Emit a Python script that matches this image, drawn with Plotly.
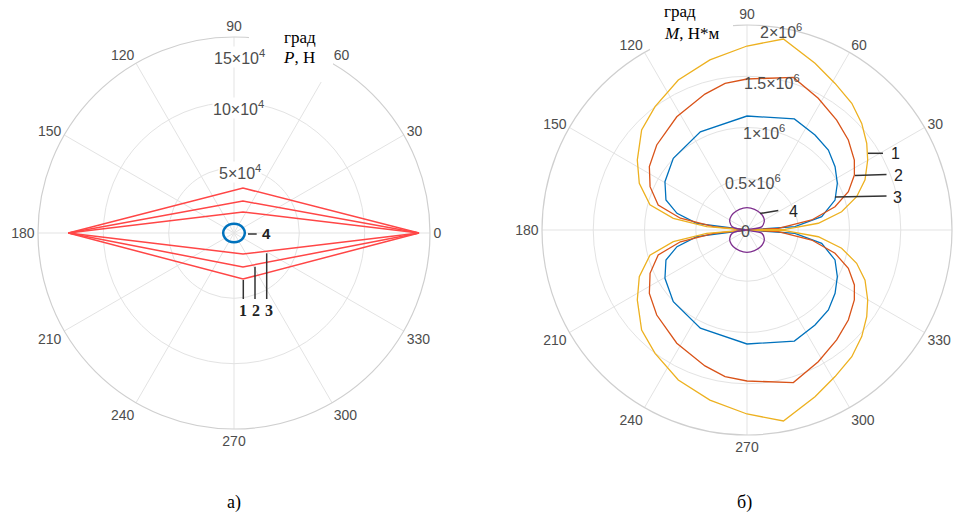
import plotly.graph_objects as go

W, H = 957, 515

# ---------- panel a): force P, units of 10^4 N ----------
p_theta_1 = [0, 78.7, 180, 281.1, 360]
p_r_1 = [14.16, 3.51, 12.68, 3.59, 14.16]
p_theta_2 = [0, 74.3, 180, 284.8, 360]
p_r_2 = [14.16, 2.54, 12.68, 2.69, 14.16]
p_theta_3 = [0, 66.8, 180, 293.2, 360]
p_r_3 = [14.16, 1.75, 12.68, 1.75, 14.16]
p_theta_4 = [0, 30, 60, 90, 120, 150, 180, 210, 240, 270, 300, 330, 360]
p_r_4 = [0.83, 0.79, 0.74, 0.71, 0.74, 0.79, 0.83, 0.79, 0.74, 0.71, 0.74, 0.79, 0.83]
p_ticks = [5, 10, 15]
p_ticklabels = ["5×10<sup>4</sup>", "10×10<sup>4</sup>", "15×10<sup>4</sup>"]

# ---------- panel б): moment M, units of 10^6 N*m (upper lobe, 0..180 deg) ----------
m_theta_1 = [0, 1, 5.4, 10.9, 16.9, 23, 30.1, 35.9, 42.9, 50.4, 59, 67.8, 79.2, 90,
             102.3, 114.6, 126.7, 136.5, 147.5, 156.6, 165.5, 171, 175.3, 180]
m_r_1 = [0, 0.371, 0.699, 0.940, 1.118, 1.251, 1.361, 1.442, 1.528, 1.604, 1.668, 1.756, 1.897, 1.795,
         1.698, 1.610, 1.501, 1.417, 1.269, 1.145, 0.978, 0.728, 0.394, 0]
m_theta_2 = [0, 3.1, 8.8, 14.8, 20.7, 27.1, 33.1, 41.6, 50.8, 61.6, 73.1, 90,
             98.5, 107.2, 121.8, 136.7, 147, 155.9, 164.3, 170, 174.4, 180]
m_r_2 = [0, 0.306, 0.639, 0.888, 1.057, 1.177, 1.250, 1.322, 1.384, 1.461, 1.556, 1.473,
         1.447, 1.388, 1.300, 1.210, 1.136, 1.036, 0.900, 0.660, 0.328, 0]
m_theta_3 = [0, 3.9, 10.1, 18.8, 27.3, 35.7, 44.5, 54.4, 66.9, 90,
             115.4, 135.8, 149.5, 159.7, 166.6, 172.4, 180]
m_r_3 = [0, 0.469, 0.740, 0.907, 0.992, 1.058, 1.113, 1.140, 1.178, 1.112,
         1.061, 1.003, 0.929, 0.843, 0.702, 0.495, 0]
m_theta_4 = [0, 12, 25, 35, 50, 70, 90, 110, 130, 145, 155, 168, 180]
m_r_4 = [0, 0.146, 0.185, 0.201, 0.210, 0.215, 0.218, 0.215, 0.210, 0.201, 0.185, 0.146, 0]
m_ticks = [0.5, 1.0, 1.5]
m_ticklabels = ["0", "0.5×10<sup>6</sup>", "1×10<sup>6</sup>", "1.5×10<sup>6</sup>", "2×10<sup>6</sup>"]

ang_vals = list(range(0, 360, 30))
ang_text = [str(a) for a in ang_vals]
# the 0 label of panel б) falls beyond the page edge, so it is left blank
ang_text_m = [""] + ang_text[1:]

RED = "rgb(255,70,70)"
BLUE = "#0072BD"
ORANGE = "#D95319"
YELLOW = "#EDB120"
PURPLE = "#7E2F8E"


def both_lobes(theta, r):
    """Upper lobe plus its mirror image below the 0-180 axis."""
    th = list(theta) + [360 - t for t in reversed(theta)]
    rr = list(r) + list(reversed(r))
    return th, rr


fig = go.Figure()

for th, rr in [(p_theta_1, p_r_1), (p_theta_2, p_r_2), (p_theta_3, p_r_3)]:
    fig.add_trace(go.Scatterpolar(theta=th, r=rr, mode="lines", subplot="polar",
                                  line=dict(color=RED, width=1.5), hoverinfo="skip"))
fig.add_trace(go.Scatterpolar(theta=p_theta_4, r=p_r_4, mode="lines", subplot="polar",
                              line=dict(color=BLUE, width=2.5, shape="spline"), hoverinfo="skip"))

for th, rr, col, shp in [(m_theta_3, m_r_3, BLUE, "linear"),
                         (m_theta_2, m_r_2, ORANGE, "linear"),
                         (m_theta_1, m_r_1, YELLOW, "linear"),
                         (m_theta_4, m_r_4, PURPLE, "spline")]:
    t_full, r_full = both_lobes(th, rr)
    fig.add_trace(go.Scatterpolar(theta=t_full, r=r_full, mode="lines", subplot="polar2",
                                  line=dict(color=col, width=1.3, shape=shp), hoverinfo="skip"))


def px(x):
    return x / W


def py(y):
    return 1 - y / H


GRID = "#e3e3e3"
RING = "#cfcfcf"
TICKFONT = dict(family="Liberation Sans, Arial", size=14, color="#4d4d4d")


def polar_layout(cx, cy, R, rmax, rticks, atext):
    return dict(
        domain=dict(x=[px(cx - R), px(cx + R)], y=[py(cy + R), py(cy - R)]),
        bgcolor="white",
        angularaxis=dict(direction="counterclockwise", rotation=0,
                         tickmode="array", tickvals=ang_vals, ticktext=atext,
                         tickfont=TICKFONT, ticks="", showline=True,
                         linecolor=RING, linewidth=1.2, gridcolor=GRID, gridwidth=1),
        radialaxis=dict(range=[0, rmax], tickvals=rticks, showticklabels=False,
                        ticks="", showline=False, gridcolor=GRID, gridwidth=1),
    )


fig.update_layout(
    width=W, height=H,
    margin=dict(l=0, r=0, t=0, b=0),
    paper_bgcolor="white",
    showlegend=False,
    polar=polar_layout(234, 233, 196, 15, p_ticks, ang_text),
    polar2=polar_layout(747, 230, 205, 2, m_ticks, ang_text_m),
)

shapes = []
annots = []


def label(x, y, text, size=14, family="Liberation Sans, Arial", color="#4d4d4d", bg=None,
          xanchor="center"):
    a = dict(x=px(x), y=py(y), xref="paper", yref="paper", text=text, showarrow=False,
             xanchor=xanchor, yanchor="middle", font=dict(family=family, size=size, color=color))
    if bg:
        a["bgcolor"] = bg
        a["borderpad"] = 0
    annots.append(a)


def seg(x0, y0, x1, y1, color="#333333", width=1.5):
    shapes.append(dict(type="line", xref="paper", yref="paper",
                       x0=px(x0), y0=py(y0), x1=px(x1), y1=py(y1),
                       line=dict(color=color, width=width), layer="above"))


def whitebox(x0, y0, x1, y1):
    shapes.append(dict(type="rect", xref="paper", yref="paper",
                       x0=px(x0), y0=py(y1), x1=px(x1), y1=py(y0),
                       fillcolor="white", line=dict(width=0), layer="above"))


# axis captions
whitebox(249, 26, 333, 82)
whitebox(650, 0, 733, 50)
SERIF = "Liberation Serif, Times New Roman"
label(300, 37, "град", size=17, family=SERIF, color="black")
label(299, 57, "<i>P</i>, Н", size=17, family=SERIF, color="black")
label(680, 12, "град", size=17, family=SERIF, color="black")
label(691, 34, "<i>M</i>, Н*м", size=17, family=SERIF, color="black")

# radial tick labels
for (x, y), t in zip([(240, 172), (238, 108), (239, 57)], p_ticklabels):
    label(x, y, t, size=16, bg="white")
for (x, y), t in zip([(745, 231), (753, 182), (764, 132), (772, 82), (781, 31)], m_ticklabels):
    label(x, y, t, size=16)

# curve numbers, panel a)
seg(243.3, 280, 243.3, 299)
seg(255, 266.7, 255, 299)
seg(266.7, 253.3, 266.7, 299)
label(243, 310, "<b>1</b>", size=16, family=SERIF, color="#222222")
label(256, 310, "<b>2</b>", size=16, family=SERIF, color="#222222")
label(268.5, 310, "<b>3</b>", size=16, family=SERIF, color="#222222")
seg(248, 234, 256.7, 234)
label(266.5, 234, "<b>4</b>", size=15, color="#222222")

# curve numbers, panel б)
seg(868, 153.3, 883, 153.3)
seg(855, 175.5, 886.5, 174.5)
seg(835, 197, 886.5, 196)
seg(760, 213.5, 778.3, 210.5)
label(895, 153, "1", size=16, color="#222222")
label(898, 175, "2", size=16, color="#222222")
label(897, 197, "3", size=16, color="#222222")
label(793, 211, "4", size=16, color="#222222")

# panel captions
label(234, 502, "а)", size=18, family=SERIF, color="black")
label(744, 502, "б)", size=18, family=SERIF, color="black")

fig.update_layout(shapes=shapes, annotations=annots)
fig.write_html("out.html")
